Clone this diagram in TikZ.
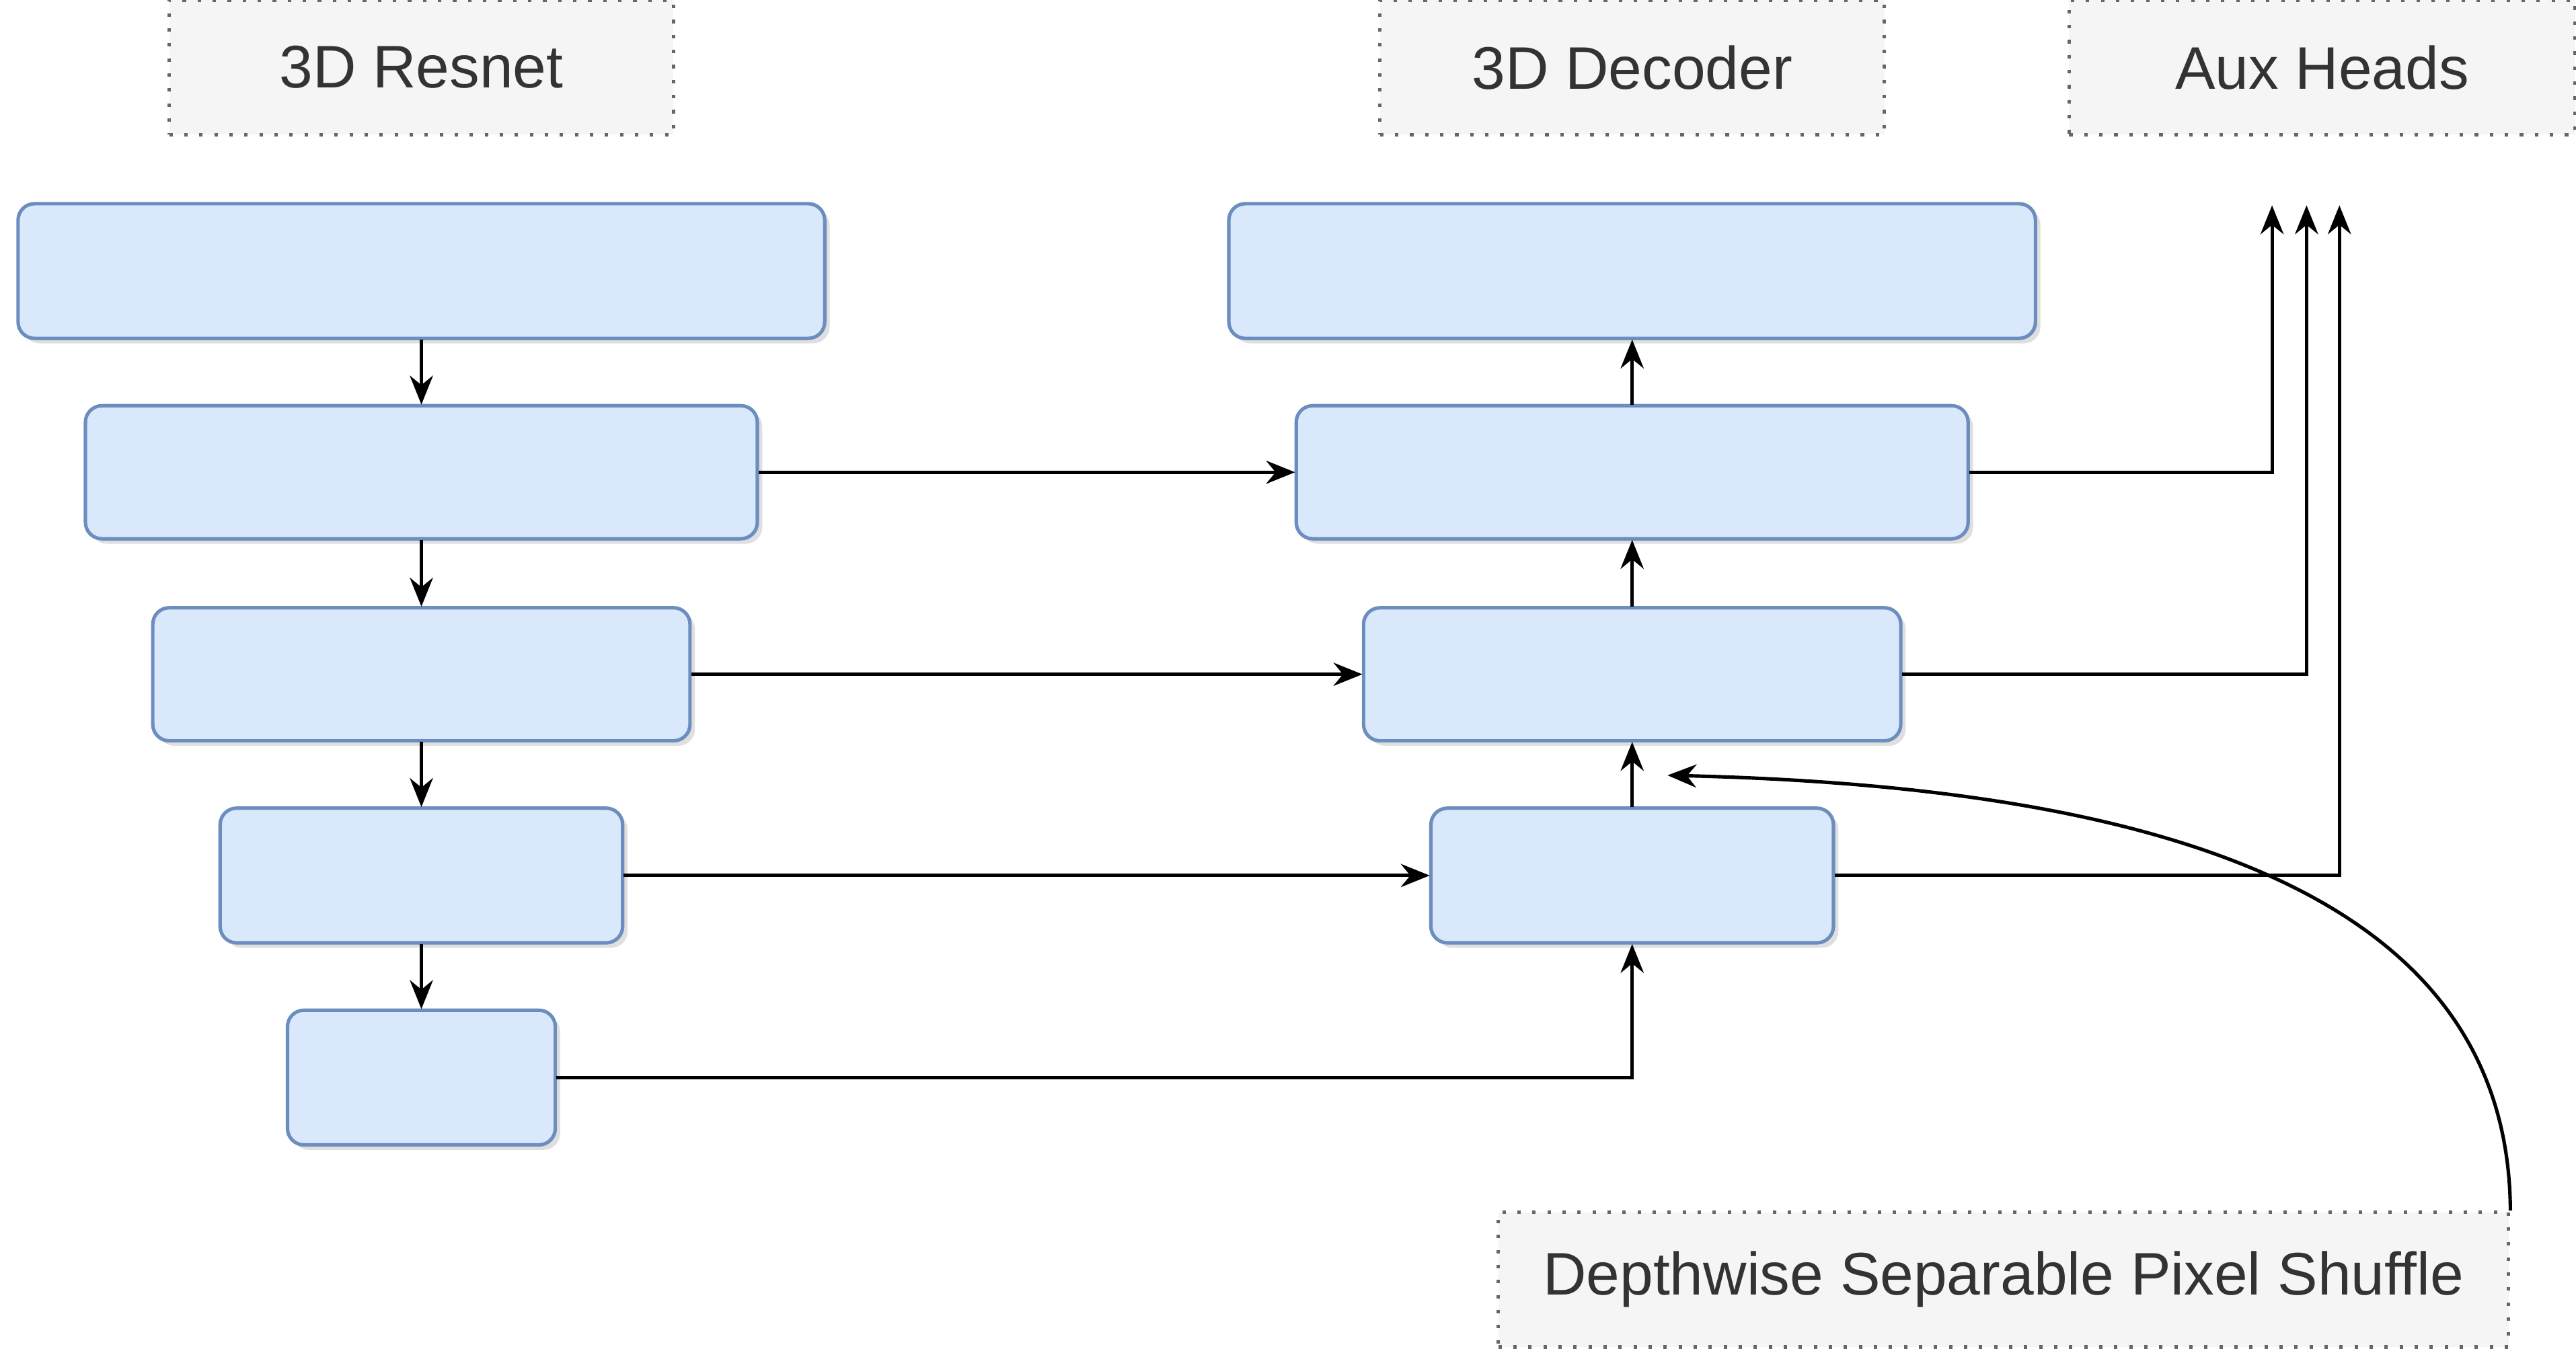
\documentclass[tikz,border=0pt]{standalone}
\usepackage{fontspec}
\setmainfont{Liberation Sans}
\usetikzlibrary{arrows.meta,shadows}
\definecolor{bfill}{HTML}{DAE8FC}
\definecolor{bdraw}{HTML}{6C8EBF}
\definecolor{lfill}{HTML}{F5F5F5}
\definecolor{ldraw}{HTML}{666666}
\definecolor{txt}{HTML}{333333}
\begin{document}
\begin{tikzpicture}[x=0.01cm,y=-0.01cm,
  blk/.style={draw=bdraw,fill=bfill,rounded corners=0.1cm,line width=0.6pt,drop shadow={shadow xshift=0.03cm,shadow yshift=-0.03cm,opacity=0.25}},
  lbl/.style={draw=ldraw,fill=lfill,dotted,line width=0.6pt,text=txt,font=\fontsize{10.4}{12}\selectfont},
  arr/.style={-{Stealth[length=5pt,width=4pt]},line width=0.6pt}]
\useasboundingbox (0,0) rectangle (1568,821);
\path[blk] (11,124) rectangle (502,206) coordinate[pos=0.5] (e1);
\path[blk] (52,247) rectangle (461,328);
\path[blk] (93,370) rectangle (420,451);
\path[blk] (134,492) rectangle (379,574);
\path[blk] (175,615) rectangle (338,697);
\path[blk] (748,124) rectangle (1239,206);
\path[blk] (789,247) rectangle (1198,328);
\path[blk] (830,370) rectangle (1157,451);
\path[blk] (871,492) rectangle (1116,574);
\node[inner sep=0] (E1) at (256.5,165) [minimum width=491*0.01cm,minimum height=82*0.01cm] {};
\node[inner sep=0,minimum width=409*0.01cm,minimum height=81*0.01cm] (E2) at (256.5,287.5) {};
\node[inner sep=0,minimum width=327*0.01cm,minimum height=81*0.01cm] (E3) at (256.5,410.5) {};
\node[inner sep=0,minimum width=245*0.01cm,minimum height=82*0.01cm] (E4) at (256.5,533) {};
\node[inner sep=0,minimum width=163*0.01cm,minimum height=82*0.01cm] (E5) at (256.5,656) {};
\node[inner sep=0,minimum width=491*0.01cm,minimum height=82*0.01cm] (D1) at (993.5,165) {};
\node[inner sep=0,minimum width=409*0.01cm,minimum height=81*0.01cm] (D2) at (993.5,287.5) {};
\node[inner sep=0,minimum width=327*0.01cm,minimum height=81*0.01cm] (D3) at (993.5,410.5) {};
\node[inner sep=0,minimum width=245*0.01cm,minimum height=82*0.01cm] (D4) at (993.5,533) {};
\node[lbl,minimum width=307*0.01cm,minimum height=82*0.01cm] (L1) at (256.5,41) {3D Resnet};
\node[lbl,minimum width=307*0.01cm,minimum height=82*0.01cm] (L2) at (993.5,41) {3D Decoder};
\node[lbl,minimum width=308*0.01cm,minimum height=82*0.01cm] (L3) at (1413.5,41) {Aux Heads};
\node[lbl,minimum width=615*0.01cm,minimum height=82*0.01cm] (L4) at (1219.5,779) {Depthwise Separable Pixel Shuffle};
\coordinate (a1) at (1383,125);
\coordinate (a2) at (1404,125);
\coordinate (a3) at (1424,125);
\coordinate (c1) at (1015,472);
\draw[arr] (E1.south) -- (E2.north);
\draw[arr] (E2.south) -- (E3.north);
\draw[arr] (E3.south) -- (E4.north);
\draw[arr] (E4.south) -- (E5.north);
\draw[arr] (E2.east) -- (D2.west);
\draw[arr] (E3.east) -- (D3.west);
\draw[arr] (E4.east) -- (D4.west);
\draw[arr] (E5.east) -| (D4.south);
\draw[arr] (D4.north) -- (D3.south);
\draw[arr] (D3.north) -- (D2.south);
\draw[arr] (D2.north) -- (D1.south);
\draw[arr] (D2.east) -| (a1);
\draw[arr] (D3.east) -| (a2);
\draw[arr] (D4.east) -| (a3);
\draw[arr] (L4.north east) .. controls (1527,560) and (1350,480) .. (c1);
\end{tikzpicture}
\end{document}
